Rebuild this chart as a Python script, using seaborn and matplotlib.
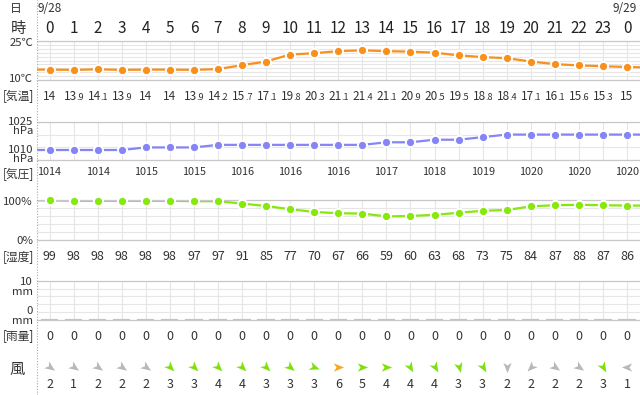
import numpy as np
import matplotlib
matplotlib.use("Agg")
import matplotlib.pyplot as plt
import seaborn as sns
from matplotlib.path import Path
from matplotlib.markers import MarkerStyle
from matplotlib.transforms import Affine2D
from matplotlib.lines import Line2D

# data
hours = list(range(25))
hour_labels = [str(h) for h in range(24)] + ["0"]
date_labels = ["9/28", "9/29"]

temp = [14, 13.9, 14.1, 13.9, 14, 14, 13.9, 14.2, 15.7, 17.1, 19.8, 20.3, 21.1,
        21.4, 21.1, 20.9, 20.5, 19.5, 18.8, 18.4, 17.1, 16.1, 15.6, 15.3, 15]
temp_edge = [14, 14.8]          # 9/27 23時, 9/29 1時 (line runs off the edges)
pressure = [1014, 1014, 1014, 1014, 1015, 1015, 1015, 1016, 1016, 1016, 1016, 1016, 1016,
            1016, 1017, 1017, 1018, 1018, 1019, 1020, 1020, 1020, 1020, 1020, 1020]
pressure_edge = [1014, 1020]
humidity = [99, 98, 98, 98, 98, 98, 97, 97, 91, 85, 77, 70, 67,
            66, 59, 60, 63, 68, 73, 75, 84, 87, 88, 87, 86]
humidity_edge = [99, 86]
rain = [0, 0, 0, 0, 0, 0, 0, 0, 0, 0, 0, 0, 0, 0, 0, 0, 0, 0, 0, 0, 0, 0, 0, 0, 0]
wind_speed = [2, 1, 2, 2, 2, 3, 3, 4, 4, 3, 3, 3, 6, 5, 4, 4, 4, 3, 3, 2, 2, 2, 2, 3, 1]
# direction the arrow points to, degrees counter-clockwise from east
wind_dir = [-35, -35, -35, -35, -35, -45, -45, -45, -45, -45, -40, -20, 0,
            0, 0, -60, -60, -75, -60, -90, -135, -35, -35, -60, 180]

W, H = 640, 395
X0 = 37
XLIM = (-0.52, 24.54)
TXT = "#333333"

sns.set_theme(style="white")
plt.rcParams["font.family"] = ["Noto Sans CJK JP", "DejaVu Sans"]

fig = plt.figure(figsize=(6.4, 3.95), dpi=100)

# overlay axes for value labels: x in hours, y in pixels
ax_t = fig.add_axes([X0 / W, 0, (W - X0) / W, 1])
ax_t.set_xlim(*XLIM)
ax_t.set_ylim(H, 0)
ax_t.axis("off")


def panel(top, bottom):
    ax = fig.add_axes([X0 / W, 1 - bottom / H, (W - X0) / W, (bottom - top) / H])
    ax.patch.set_alpha(0)
    return ax


def style_panel(ax, ylim, step):
    ax.set_xlim(*XLIM)
    ax.set_ylim(*ylim)
    ax.set_xticks(hours)
    ax.set_yticks(np.arange(ylim[0], ylim[1] + step / 2, step))
    ax.grid(True, color="#e6e6e6", linewidth=0.8)
    ax.set_axisbelow(True)
    ax.tick_params(length=0, labelbottom=False, labelleft=False)
    for s in ["left", "right"]:
        ax.spines[s].set_visible(False)
    for s in ["top", "bottom"]:
        ax.spines[s].set_color("#c8c8c8")
        ax.spines[s].set_linewidth(0.9)
    ax.set_xlabel("")
    ax.set_ylabel("")


def series(ax, values, edge, color):
    xs = [-1] + hours + [25]
    ys = [edge[0]] + values + [edge[1]]
    sns.lineplot(x=xs, y=ys, ax=ax, color=color, linewidth=1.6, zorder=2)
    sns.scatterplot(x=hours, y=values, ax=ax, color=color, s=44, edgecolor="white",
                    linewidth=1.4, zorder=3, clip_on=False)


# temperature
ax_temp = panel(41, 80)
series(ax_temp, temp, temp_edge, "#f8901e")
style_panel(ax_temp, (10, 25), 1.5)

# pressure
ax_pres = panel(121.7, 160.3)
series(ax_pres, pressure, pressure_edge, "#8585f5")
style_panel(ax_pres, (1010, 1025), 5)

# humidity
ax_hum = panel(200, 240)
series(ax_hum, humidity, humidity_edge, "#86e80c")
style_panel(ax_hum, (0, 100), 20)

# rain
ax_rain = panel(280.7, 320)
ax_rain.bar(hours, rain, width=0.72, color="#c4c4c4", edgecolor="#c4c4c4", linewidth=1.6)
style_panel(ax_rain, (0, 10), 2)

# header
ax_t.text(hours[0], 8.5, date_labels[0], ha="center", va="center", fontsize=8.5, color=TXT)
ax_t.text(hours[-1] - 0.1, 8.5, date_labels[1], ha="center", va="center", fontsize=8.5, color=TXT)
for h, lab in zip(hours, hour_labels):
    ax_t.text(h, 28.5, lab, ha="center", va="center", fontsize=11, color="#222222")

# temperature values with small decimals
for h, t in zip(hours, temp):
    s = f"{t:g}"
    if "." in s:
        ip, fp = s.split(".")
        ax_t.annotate(ip, (h, 100.3), xytext=(2.6, 0), textcoords="offset points",
                      ha="right", va="baseline", fontsize=8.5, color=TXT)
        ax_t.annotate("." + fp, (h, 100.3), xytext=(2.1, 0), textcoords="offset points",
                      ha="left", va="baseline", fontsize=6.6, color=TXT)
    else:
        ax_t.text(h, 100.3, s, ha="center", va="baseline", fontsize=8.5, color=TXT)

# pressure every 2 hours
for h, p in zip(hours[::2], pressure[::2]):
    ax_t.text(h, 172, str(p), ha="center", va="center", fontsize=7.8, color=TXT)

for h, v in zip(hours, humidity):
    ax_t.text(h, 256.5, str(v), ha="center", va="center", fontsize=9, color=TXT)

for h, v in zip(hours, rain):
    ax_t.text(h, 336, f"{v:g}", ha="center", va="center", fontsize=9, color=TXT)

# wind arrows
arrow = Path([(1, 0), (-0.85, 0.75), (-0.35, 0), (-0.85, -0.75), (1, 0)],
             [Path.MOVETO, Path.LINETO, Path.LINETO, Path.LINETO, Path.CLOSEPOLY])
for h, sp, d in zip(hours, wind_speed, wind_dir):
    if sp >= 6:
        c = "#f9a61e"
    elif sp >= 3:
        c = "#7fe010"
    else:
        c = "#b8b8b8"
    m = MarkerStyle(arrow, transform=Affine2D().rotate_deg(d))
    ax_t.plot([h], [366.5], marker=m, markersize=8, color=c, linestyle="none",
              markeredgewidth=0)
    ax_t.text(h, 384, str(sp), ha="center", va="center", fontsize=9, color=TXT)

# left label column
def left(x, y, s, size=8.2, ha="right"):
    fig.text(x / W, 1 - y / H, s, ha=ha, va="center", fontsize=size, color=TXT)

left(16, 8.5, "日", 8.5, "center")
left(18, 28.5, "時", 11, "center")
left(33, 43, "25℃")
left(33, 79, "10℃")
left(18, 96, "[気温]", 8.5, "center")
left(33, 122, "1025")
left(33, 131.5, "hPa")
left(33, 150, "1010")
left(33, 159.5, "hPa")
left(18, 174, "[気圧]", 8.5, "center")
left(33, 202, "100%")
left(33, 241, "0%")
left(18, 257, "[湿度]", 8.5, "center")
left(33, 282, "10")
left(33, 292, "mm")
left(33, 311, "0")
left(33, 320.5, "mm")
left(18, 336, "[雨量]", 8.5, "center")
left(17, 369, "風", 11, "center")

fig.add_artist(Line2D([36.5 / W, 36.5 / W], [0, 1], linestyle=(0, (1, 1.5)),
                      color="#aaaaaa", linewidth=0.8))

fig.savefig("out.png", dpi=100)
